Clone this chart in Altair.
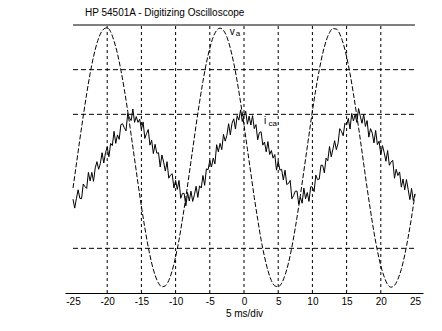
import altair as alt
import pandas as pd
import numpy as np

# ---------------- data ----------------
title_text = "HP 54501A - Digitizing Oscilloscope"
x_title = "5 ms/div"
x_ticks = [-25, -20, -15, -10, -5, 0, 5, 10, 15, 20, 25]
grid_x = [-20, -15, -10, -5, 0, 5, 10, 15, 20]
grid_y = [1, 4, 5]

# sample times (ms)
t_va = np.round(np.arange(-25, 25.001, 0.5), 2)
t_ica = np.round(np.arange(-25, 25.001, 0.25), 2)

# phase voltage va (divisions above bottom)
va = [2.35, 2.89, 3.44, 3.96, 4.46, 4.91, 5.29, 5.59, 5.80, 5.91,
      5.94, 5.85, 5.64, 5.36, 4.99, 4.56, 4.07, 3.54, 3.00, 2.46,
      1.94, 1.46, 1.03, 0.67, 0.40, 0.22, 0.14, 0.16, 0.28, 0.50,
      0.81, 1.19, 1.65, 2.14, 2.68, 3.22, 3.76, 4.27, 4.74, 5.15,
      5.48, 5.73, 5.88, 5.93, 5.88, 5.73, 5.48, 5.15, 4.74, 4.27,
      3.76, 3.22, 2.68, 2.14, 1.65, 1.19, 0.81, 0.50, 0.28, 0.16,
      0.14, 0.22, 0.40, 0.67, 1.03, 1.46, 1.94, 2.46, 3.00, 3.54,
      4.07, 4.56, 4.99, 5.36, 5.64, 5.83, 5.92, 5.91, 5.80, 5.59,
      5.29, 4.91, 4.46, 3.96, 3.44, 2.89, 2.35, 1.84, 1.36, 0.95,
      0.61, 0.36, 0.19, 0.13, 0.17, 0.31, 0.53, 0.85, 1.25, 1.70,
      2.21]

# current ica (noisy trace)
ica = [2.10, 1.90, 2.12, 2.31, 2.12, 2.11, 2.44, 2.38, 2.34, 2.70,
       2.51, 2.70, 2.50, 2.80, 2.94, 2.77, 2.90, 3.14, 2.91, 3.14,
       3.27, 3.05, 3.35, 3.30, 3.62, 3.35, 3.54, 3.44, 3.77, 3.79,
       3.70, 3.63, 4.02, 3.92, 3.86, 4.12,
       3.82, 3.95, 3.82, 3.89, 3.66, 3.83, 3.46, 3.57, 3.66, 3.31,
       3.42, 3.12, 3.33, 3.13, 3.14, 2.82, 3.09, 2.93, 2.73, 2.94,
       2.57, 2.64, 2.67, 2.35, 2.52, 2.32, 2.52, 2.12, 2.23, 2.23,
       1.95, 2.25, 2.06, 2.28, 2.05, 2.20, 2.39,
       2.14, 2.40, 2.35, 2.63, 2.41, 2.78, 2.76, 2.97, 2.82, 3.02,
       2.89, 3.32, 3.16, 3.35, 3.21, 3.55, 3.40, 3.53, 3.79, 3.54,
       3.80, 3.90, 3.67, 3.97, 3.87, 4.10, 3.84, 3.97,
       4.07, 3.78, 3.96, 3.76, 3.97, 3.68, 3.77, 3.43, 3.59, 3.61,
       3.31, 3.38, 3.16, 3.39, 3.10, 3.19, 3.02, 3.10, 2.75, 2.95,
       2.75, 2.77, 2.53, 2.75, 2.43, 2.45, 2.52, 2.11, 2.18, 2.28,
       2.28, 1.99, 2.14, 2.01, 2.35, 2.11, 2.25, 2.05,
       2.38, 2.37, 2.27, 2.64, 2.54, 2.55, 2.86, 2.86, 2.69, 3.02,
       2.96, 3.28, 3.05, 3.22, 3.41, 3.21, 3.35, 3.68, 3.62, 3.52,
       3.80, 3.76, 3.91, 3.67, 4.02, 3.85, 4.00, 3.82, 4.13,
       3.96, 3.80, 4.00, 3.73, 3.86, 3.49, 3.68, 3.58, 3.36, 3.64,
       3.32, 3.40, 3.10, 3.30, 3.14, 2.95, 3.19, 2.86, 2.93, 2.97,
       2.57, 2.77, 2.63, 2.71, 2.37, 2.55, 2.31, 2.54, 2.32, 2.09,
       2.34, 2.07, 2.22]

label_main = ["v", "i"]
label_main_x = [-1.72, 3.1]
label_main_y = [5.84, 3.85]
label_sub = ["a", "ca"]
label_sub_x = [-1.2, 3.6]
label_sub_y = [5.79, 3.78]

# ---------------- chart ----------------
FONT = "Liberation Sans"
xscale = alt.Scale(domain=[-26.17, 26.17], nice=False, zero=False)
yscale = alt.Scale(domain=[0, 6], nice=False, zero=False)
xaxis = alt.Axis(values=x_ticks, title=x_title, grid=False, ticks=False,
                 domainColor="black", domainWidth=1, labelColor="black",
                 labelFont=FONT, labelFontSize=10, labelPadding=3,
                 labelExpr="'' + datum.value", labelFlush=False,
                 titleFont=FONT, titleFontSize=10, titleFontWeight="normal",
                 titleColor="black", titlePadding=2)

def X(field):
    return alt.X(f"{field}:Q", scale=xscale, axis=xaxis)

def Y(field):
    return alt.Y(f"{field}:Q", scale=yscale, axis=None)

va_df = pd.DataFrame({"x": t_va, "y": va})
ica_df = pd.DataFrame({"x": t_ica, "y": ica})
gx_df = pd.DataFrame({"x": grid_x, "y0": 0, "y1": 6})
gy_df = pd.DataFrame({"y": grid_y, "x": -25, "x1": 25})
top_df = pd.DataFrame({"y": [6], "x": [-25], "x1": [25]})

vgrid = alt.Chart(gx_df).mark_rule(color="black", strokeWidth=1, strokeDash=[3, 3]).encode(
    x=X("x"), y=Y("y0"), y2="y1")
hgrid = alt.Chart(gy_df).mark_rule(color="black", strokeWidth=1, strokeDash=[5, 3]).encode(
    x=X("x"), x2="x1", y=Y("y"))
topline = alt.Chart(top_df).mark_rule(color="black", strokeWidth=1).encode(
    x=X("x"), x2="x1", y=Y("y"))

va_line = alt.Chart(va_df).mark_line(color="black", strokeWidth=1, strokeDash=[5, 2],
                                     interpolate="monotone").encode(x=X("x"), y=Y("y"))
ica_line = alt.Chart(ica_df).mark_line(color="black", strokeWidth=1).encode(x=X("x"), y=Y("y"))

main_lbl = alt.Chart(pd.DataFrame({"x": label_main_x, "y": label_main_y, "t": label_main})).mark_text(
    font=FONT, fontSize=10, color="black", fill="black", align="center", baseline="middle").encode(
    x=X("x"), y=Y("y"), text="t:N")
sub_lbl = alt.Chart(pd.DataFrame({"x": label_sub_x, "y": label_sub_y, "t": label_sub})).mark_text(
    font=FONT, fontSize=8, color="black", fill="black", align="left", baseline="middle").encode(
    x=X("x"), y=Y("y"), text="t:N")

title = alt.Chart(pd.DataFrame({"s": [title_text]})).mark_text(
    font=FONT, fontSize=10, color="black", align="left", baseline="middle").encode(
    x=alt.value(20), y=alt.value(-12), text="s:N")

chart = alt.layer(vgrid, hgrid, topline, va_line, ica_line, main_lbl, sub_lbl, title).properties(
    width=358, height=268,
    padding={"left": 57, "top": 17, "right": 10, "bottom": 28},
    autosize="none",
    background="white",
).configure_view(stroke=None)

chart.save("out.html", embed_options={"renderer": "svg", "actions": False})
